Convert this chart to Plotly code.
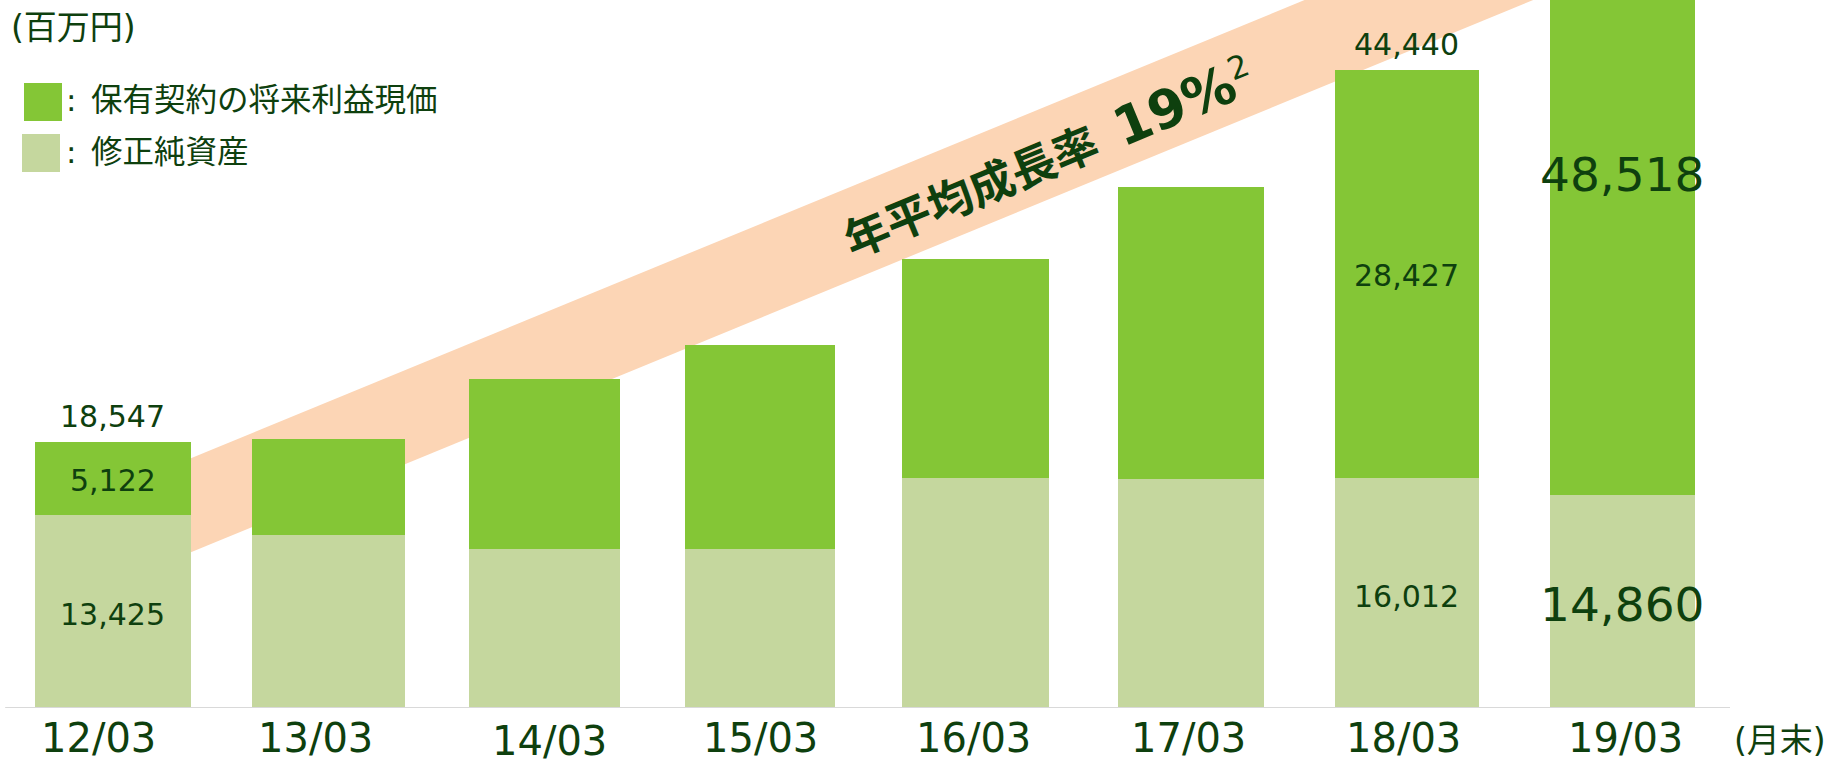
import plotly.graph_objects as go

# ---------------- data ----------------
categories = ["12/03", "13/03", "14/03", "15/03", "16/03", "17/03", "18/03", "19/03"]
net_assets = [13425, 12080, 11040, 11060, 16050, 15980, 16012, 14860]      # 修正純資産
vif_values = [5122, 6620, 11840, 14190, 15230, 20270, 28427, 48518]        # 保有契約の将来利益現価
reported_totals = [18547, None, None, None, None, None, 44440, None]
labelled_net = ["13,425", None, None, None, None, None, "16,012", "14,860"]
labelled_vif = ["5,122", None, None, None, None, None, "28,427", "48,518"]
series_names = ["修正純資産", "保有契約の将来利益現価"]
unit_label = "(百万円)"
period_label = "(月末)"
band_label = "年平均成長率"
band_rate = "19%"

# ---------------- style ----------------
W, H = 1827, 763
MB = 55
PLOT_H = H - MB
Y_MAX = 49300
X_RANGE = [-0.524, 7.950]
BAR_WIDTHS = [0.725, 0.71, 0.70, 0.694, 0.684, 0.678, 0.668, 0.672]
TICK_XSHIFT = [-14, -13, 5, 1, -2, -2, -3, 3]
TICK_YSHIFT = [0, 0, -3, 0, 0, 0, 0, 0]
C_VIF = "#84C636"
C_NET = "#C5D79E"
C_BAND = "#FCD5B5"
C_TXT = "#0E400E"
FONT = "DejaVu Sans, Noto Sans CJK JP, sans-serif"


def px_x(p):
    return p / W


def px_y(p):
    return 1 - p / PLOT_H


fig = go.Figure()
fig.add_trace(go.Bar(x=categories, y=net_assets, name=series_names[0],
                     marker=dict(color=C_NET, line=dict(width=0)), width=BAR_WIDTHS,
                     hoverinfo="x+y"))
fig.add_trace(go.Bar(x=categories, y=vif_values, name=series_names[1],
                     marker=dict(color=C_VIF, line=dict(width=0)), width=BAR_WIDTHS,
                     hoverinfo="x+y"))

annotations = []
for i, c in enumerate(categories):
    big = (c == "19/03")
    fs = 47 if big else 30
    if labelled_net[i]:
        annotations.append(dict(x=c, y=net_assets[i] / 2, text=labelled_net[i], yshift=-3,
                                showarrow=False, font=dict(size=fs, color=C_TXT, family=FONT),
                                xanchor="center", yanchor="middle"))
    if labelled_vif[i]:
        yv = 37300 if big else net_assets[i] + vif_values[i] / 2
        annotations.append(dict(x=c, y=yv, text=labelled_vif[i], yshift=-2,
                                showarrow=False, font=dict(size=fs, color=C_TXT, family=FONT),
                                xanchor="center", yanchor="middle"))
    if reported_totals[i]:
        annotations.append(dict(x=c, y=net_assets[i] + vif_values[i], text=f"{reported_totals[i]:,}",
                                showarrow=False, font=dict(size=30, color=C_TXT, family=FONT),
                                xanchor="center", yanchor="bottom", yshift=6))
    # category label under the axis
    annotations.append(dict(x=c, y=0, yref="y", text=c, showarrow=False,
                            xanchor="center", yanchor="middle",
                            xshift=TICK_XSHIFT[i], yshift=-30 + TICK_YSHIFT[i],
                            font=dict(size=40, color=C_TXT, family=FONT)))

# growth band text
annotations.append(dict(x=4.34, y=38300,
                        text=f"<b>{band_label}\u2002<span style='font-size:53px'>{band_rate}</span></b><sup>2</sup>",
                        showarrow=False, textangle=-22.4,
                        font=dict(size=45, color=C_TXT, family=FONT),
                        xanchor="center", yanchor="middle"))

# unit + legend texts
annotations.append(dict(xref="paper", yref="paper", x=px_x(9), y=px_y(27), text=unit_label,
                        showarrow=False, xanchor="left", yanchor="middle",
                        font=dict(size=33, color=C_TXT, family=FONT)))
for ypos, name in ((100, series_names[1]), (152, series_names[0])):
    annotations.append(dict(xref="paper", yref="paper", x=px_x(64), y=px_y(ypos), text=":",
                            showarrow=False, xanchor="left", yanchor="middle",
                            font=dict(size=31, color=C_TXT, family=FONT)))
    annotations.append(dict(xref="paper", yref="paper", x=px_x(89), y=px_y(ypos), text=name,
                            showarrow=False, xanchor="left", yanchor="middle",
                            font=dict(size=31.5, color=C_TXT, family=FONT)))
annotations.append(dict(xref="paper", yref="paper", x=px_x(1780), y=px_y(740), text=period_label,
                        showarrow=False, xanchor="center", yanchor="middle",
                        font=dict(size=33, color=C_TXT, family=FONT)))

shapes = [
    # growth band (behind bars)
    dict(type="path", xref="x", yref="y", layer="below", line=dict(width=0), fillcolor=C_BAND,
         path="M 0,8610 L 6.72,50120 L 6.72,56670 L 0,15160 Z"),
    # baseline
    dict(type="line", xref="x", yref="y", x0=-0.5, x1=7.5, y0=0, y1=0,
         line=dict(color="#D9D9D9", width=2), layer="above"),
    # legend swatches
    dict(type="rect", xref="paper", yref="paper", x0=px_x(24), x1=px_x(62), y0=px_y(121), y1=px_y(83),
         fillcolor=C_VIF, line=dict(width=0)),
    dict(type="rect", xref="paper", yref="paper", x0=px_x(22), x1=px_x(60), y0=px_y(172), y1=px_y(134),
         fillcolor=C_NET, line=dict(width=0)),
]

fig.update_layout(
    width=W, height=H, barmode="stack", showlegend=False,
    margin=dict(l=0, r=0, t=0, b=MB, pad=0),
    paper_bgcolor="white", plot_bgcolor="white",
    font=dict(family=FONT, color=C_TXT),
    annotations=annotations, shapes=shapes,
    xaxis=dict(range=X_RANGE, showgrid=False, zeroline=False, showline=False, ticks="",
               showticklabels=False, automargin=False),
    yaxis=dict(range=[0, Y_MAX], showgrid=False, zeroline=False, showline=False,
               showticklabels=False, ticks="", automargin=False),
)

fig.write_html("out.html", config={"displayModeBar": False},
               post_script="document.body.style.margin='0';document.body.style.overflow='hidden';")
